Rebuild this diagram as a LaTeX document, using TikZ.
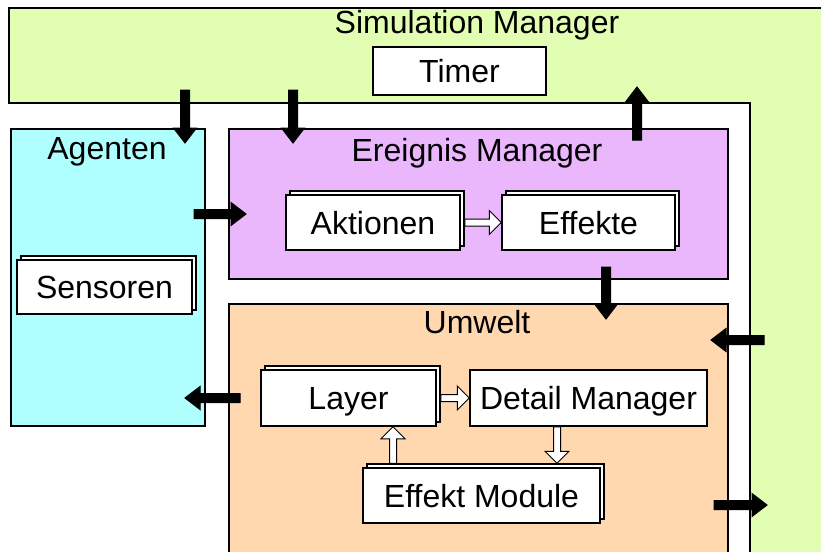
\documentclass[tikz,border=0pt]{standalone}
\usepackage{fontspec}
\setmainfont{Liberation Sans}
\usetikzlibrary{calc,shadows}
\definecolor{simgreen}{RGB}{226,254,178}
\definecolor{agcyan}{RGB}{176,255,255}
\definecolor{evpurple}{RGB}{234,182,252}
\definecolor{umorange}{RGB}{255,216,176}
\newcommand\fatarrow[6]{%
  \coordinate (fa-c) at ($(#6)!#4!(#5)$);
  \draw[fill=#1, line width=1pt, line join=miter]
    ($(#5)!#2!90:(#6)$) -- ($(fa-c)!#2!90:(#6)$) -- ($(fa-c)!#3!90:(#6)$) -- (#6)
    -- ($(fa-c)!#3!-90:(#6)$) -- ($(fa-c)!#2!-90:(#6)$) -- ($(#5)!#2!-90:(#6)$) -- cycle;}
\newcommand\harrow[2]{\fatarrow{white}{3.5pt}{12pt}{12pt}{#1}{#2}}
\newcommand\barrow[2]{\fatarrow{black}{4.5pt}{11.5pt}{15pt}{#1}{#2}}
\tikzset{
  every node/.style={font=\fontsize{32}{38}\selectfont},
  txt/.style={inner sep=0pt, text height=23pt, text depth=0pt},
  region/.style={draw=black, line width=1.5pt, inner sep=0pt, anchor=north west},
  box/.style={draw=black, line width=1.5pt, fill=white, inner sep=0pt,
    text height=23pt, text depth=0pt, minimum height=55pt},
  stackbox/.style={box, copy shadow={shadow xshift=4pt, shadow yshift=4pt,
    draw=black, fill=white, line width=1.5pt}},
  border/.style={draw=black, line width=1.5pt},
}
\begin{document}
\begin{tikzpicture}[x=1pt,y=-1pt]
\useasboundingbox (0,0) rectangle (821,551);
\clip (0,0) rectangle (821,551);
\fill[white] (0,0) rectangle (821,551);
% Simulation Manager area
\fill[simgreen] (9,8) -- (840,8) -- (840,570) -- (750,570) -- (750,103) -- (9,103) -- cycle;
\draw[border] (840,8) -- (9,8) -- (9,103) -- (750,103) -- (750,570);
\node[txt] (simlabel) at (477,22) {Simulation Manager};
\node[box, minimum width=173pt, minimum height=48pt] (timer) at (459.5,71) {Timer};
% containers
\node[region, fill=agcyan, minimum width=194pt, minimum height=297pt] (agenten) at (10,128) {};
\node[region, fill=evpurple, minimum width=499pt, minimum height=150pt] (ereignis) at (228,128) {};
\node[region, fill=umorange, minimum width=499pt, minimum height=280pt] (umwelt) at (228,303) {};
\node[txt] (aglabel) at (107,148) {Agenten};
\node[txt] (evlabel) at (477,150) {Ereignis Manager};
\node[txt] (umlabel) at (477,322) {Umwelt};
% inner boxes
\node[stackbox, minimum width=174pt] (akt) at (373,222.5) {Aktionen};
\node[stackbox, minimum width=173pt] (eff) at (588.5,222.5) {Effekte};
\node[stackbox, minimum width=175pt, minimum height=54pt] (sens) at (104.5,287) {Sensoren};
\node[stackbox, minimum width=175pt, minimum height=56pt] (layer) at (348.5,398) {Layer};
\node[box, minimum width=237pt, minimum height=56pt] (detail) at (588.5,398) {Detail Manager};
\node[stackbox, minimum width=237pt, minimum height=55pt] (effmod) at (481.5,495.5) {Effekt Module};
% hollow arrows
\coordinate (akt-out) at ([xshift=4pt]akt.east);
\coordinate (layer-out) at ([xshift=4pt]layer.east);
\coordinate (d1) at ([xshift=-31.5pt]detail.south);
\coordinate (e0) at ([yshift=4pt]effmod.north);
\coordinate (d2) at (d1 |- e0);
\coordinate (l1) at ([xshift=44.5pt]layer.south);
\coordinate (e1) at (l1 |- e0);
\harrow{akt-out}{eff.west}
\harrow{layer-out}{detail.west}
\harrow{d1}{d2}
\harrow{e1}{l1}
% black arrows
\coordinate (s1) at (185,90);   \coordinate (t1) at (185,143);
\coordinate (s2) at (293,90);   \coordinate (t2) at (293,143);
\coordinate (s3) at (637,140);  \coordinate (t3) at (637,87);
\coordinate (s4) at (194,214);  \coordinate (t4) at (246,214);
\coordinate (s5) at (606,267);  \coordinate (t5) at (606,319);
\coordinate (s6) at (764,340);  \coordinate (t6) at (711,340);
\coordinate (s7) at (240,398);  \coordinate (t7) at (185,398);
\coordinate (s8) at (714,505);  \coordinate (t8) at (767,505);
\barrow{s1}{t1}
\barrow{s2}{t2}
\barrow{s3}{t3}
\barrow{s4}{t4}
\barrow{s5}{t5}
\barrow{s6}{t6}
\barrow{s7}{t7}
\barrow{s8}{t8}
\end{tikzpicture}
\end{document}
